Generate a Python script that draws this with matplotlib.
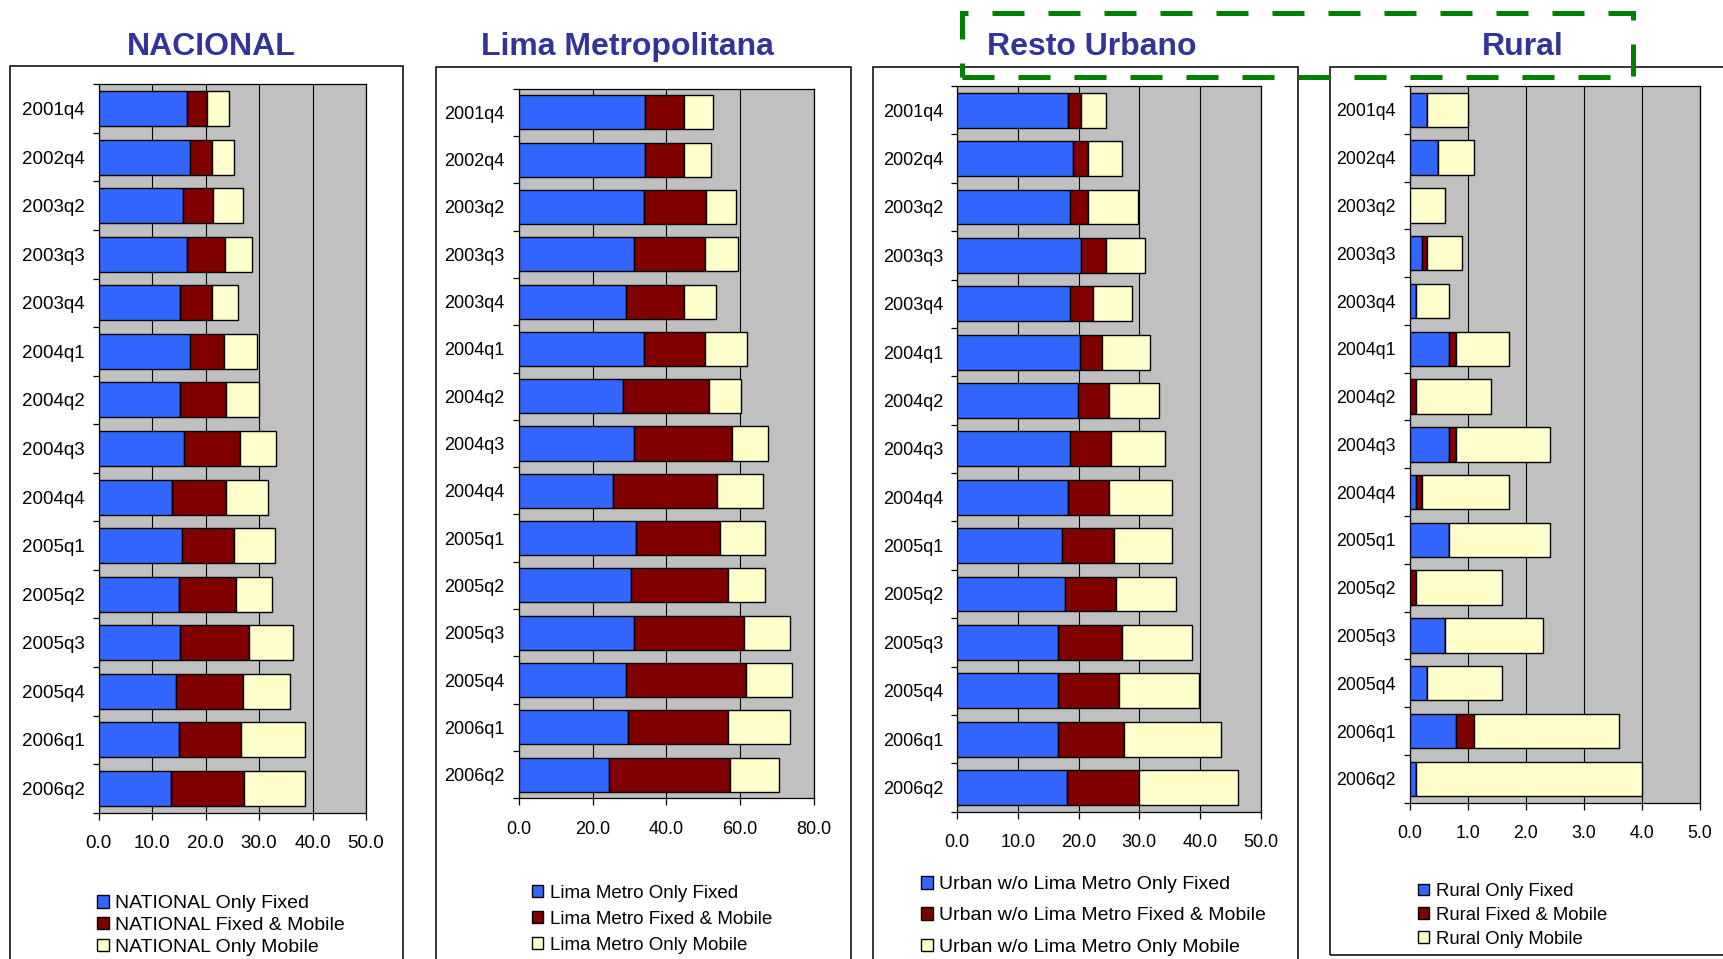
import numpy as np
import matplotlib
matplotlib.use("Agg")
import matplotlib.pyplot as plt
from matplotlib.patches import Rectangle
from matplotlib.ticker import MultipleLocator

plt.rcParams['font.family'] = ['Liberation Sans', 'DejaVu Sans']

QUARTERS = ['2001q4', '2002q4', '2003q2', '2003q3', '2003q4', '2004q1', '2004q2',
            '2004q3', '2004q4', '2005q1', '2005q2', '2005q3', '2005q4', '2006q1', '2006q2']

# segment lengths: only fixed / fixed & mobile / only mobile
NAT_FIXED = [16.6, 17.1, 15.8, 16.6, 15.2, 17.1, 15.2, 16.0, 13.8, 15.5, 15.0, 15.2, 14.4, 15.0, 13.6]
NAT_BOTH = [3.7, 4.0, 5.6, 7.0, 5.9, 6.3, 8.7, 10.4, 10.1, 9.9, 10.6, 12.9, 12.6, 11.7, 13.6]
NAT_MOBILE = [4.1, 4.3, 5.5, 5.0, 5.0, 6.3, 6.1, 6.7, 7.7, 7.5, 6.9, 8.3, 8.8, 11.9, 11.4]

LIMA_FIXED = [34.2, 34.2, 33.9, 31.3, 29.2, 33.9, 28.3, 31.3, 25.6, 31.8, 30.4, 31.3, 29.2, 29.6, 24.5]
LIMA_BOTH = [10.6, 10.6, 16.8, 19.1, 15.6, 16.5, 23.3, 26.4, 28.1, 22.8, 26.3, 29.8, 32.3, 27.1, 32.7]
LIMA_MOBILE = [7.8, 7.3, 8.2, 8.9, 8.6, 11.5, 8.6, 9.9, 12.6, 12.2, 10.1, 12.5, 12.5, 16.9, 13.3]

URB_FIXED = [18.2, 19.0, 18.5, 20.4, 18.5, 20.2, 19.9, 18.5, 18.2, 17.2, 17.7, 16.6, 16.6, 16.6, 18.0]
URB_BOTH = [2.2, 2.5, 3.0, 4.1, 3.8, 3.7, 5.1, 6.8, 6.8, 8.6, 8.4, 10.5, 10.0, 10.8, 11.9]
URB_MOBILE = [4.1, 5.6, 8.3, 6.5, 6.5, 7.9, 8.3, 8.9, 10.4, 9.6, 9.9, 11.6, 13.2, 16.1, 16.4]

RUR_FIXED = [0.29, 0.49, 0.0, 0.20, 0.10, 0.68, 0.0, 0.68, 0.10, 0.68, 0.0, 0.60, 0.29, 0.79, 0.10]
RUR_BOTH = [0.0, 0.0, 0.0, 0.09, 0.0, 0.11, 0.10, 0.11, 0.11, 0.0, 0.10, 0.0, 0.0, 0.32, 0.0]
RUR_MOBILE = [0.71, 0.62, 0.61, 0.61, 0.58, 0.91, 1.30, 1.62, 1.49, 1.73, 1.48, 1.70, 1.29, 2.49, 3.90]

SUFFIXES = ['Only Fixed', 'Fixed & Mobile', 'Only Mobile']
COLORS = ['#3366FF', '#800000', '#FFFFCC']
TITLE_COLOR = '#333399'

W, H = 1724, 959
fig = plt.figure(figsize=(W / 100, H / 100), dpi=100)


def fx(x):
    return x / W


def fy(y):
    return 1 - y / H


# title, title x, axes box (l, t, r, b) px, xmax, step, legend prefix,
# legend anchor px, labelspacing, tick font, legend font, outer box px
PANELS = [
    ('NACIONAL', 211, (98.7, 84.3, 366, 812.7), 50, 10, 'NATIONAL',
     (97, 895), 0.24, 13.5, 14, (10, 66, 403, 975),
     (NAT_FIXED, NAT_BOTH, NAT_MOBILE)),
    ('Lima Metropolitana', 627, (518.7, 88.7, 814, 798.3), 80, 20, 'Lima Metro',
     (532, 885), 0.48, 13, 13.5, (436, 67, 851, 975),
     (LIMA_FIXED, LIMA_BOTH, LIMA_MOBILE)),
    ('Resto Urbano', 1092, (957.3, 86, 1260.7, 811.7), 50, 10, 'Urban w/o Lima Metro',
     (921, 876), 0.73, 13, 14, (873, 67, 1298, 975),
     (URB_FIXED, URB_BOTH, URB_MOBILE)),
    ('Rural', 1523, (1410, 86, 1700, 802.7), 5, 1, 'Rural',
     (1418, 883), 0.37, 12.8, 13.3, (1330, 67, 1740, 955),
     (RUR_FIXED, RUR_BOTH, RUR_MOBILE)),
]

y = np.arange(len(QUARTERS))
for (title, tx, (l, t, r, b), xmax, step, prefix, (lx, ly), lsp, tfs, lfs,
     (bl, bt, br, bb), series) in PANELS:
    # outer chart-area frame
    fig.patches.append(Rectangle((fx(bl), fy(bb)), fx(br) - fx(bl), fy(bt) - fy(bb),
                                 transform=fig.transFigure, fill=False,
                                 edgecolor='black', linewidth=1.1))
    fig.text(fx(tx), fy(47), title, ha='center', va='center', fontsize=23,
             fontweight='bold', color=TITLE_COLOR)

    ax = fig.add_axes([fx(l), fy(b), fx(r) - fx(l), fy(t) - fy(b)])
    ax.set_facecolor('#C0C0C0')
    left = np.zeros(len(QUARTERS))
    for vals, col, suf in zip(series, COLORS, SUFFIXES):
        ax.barh(y, vals, left=left, height=0.72, color=col, edgecolor='black',
                linewidth=1.0, label=f'{prefix} {suf}', zorder=3)
        left = left + np.array(vals)
    ax.set_xlim(0, xmax)
    ax.set_ylim(len(QUARTERS) - 0.5, -0.5)
    ax.set_xticks(np.arange(0, xmax + step / 2, step))
    ax.set_xticklabels([f'{v:.1f}' for v in np.arange(0, xmax + step / 2, step)])
    ax.set_yticks(y)
    ax.set_yticklabels(QUARTERS)
    ax.yaxis.set_minor_locator(MultipleLocator(1, offset=0.5))
    ax.tick_params(axis='y', which='major', length=0, pad=10, labelsize=tfs)
    ax.tick_params(axis='y', which='minor', length=4.5, width=0.9, direction='out')
    ax.tick_params(axis='x', length=5, width=0.9, pad=11, labelsize=tfs)
    ax.grid(axis='x', color='black', linewidth=0.8, zorder=1)
    ax.set_axisbelow(True)
    for s in ax.spines.values():
        s.set_linewidth(0.9)
        s.set_color('black')

    ax.legend(loc='upper left', bbox_to_anchor=(fx(lx), fy(ly)),
              bbox_transform=fig.transFigure, frameon=False, fontsize=lfs,
              handlelength=0.6, handleheight=0.62, handletextpad=0.35,
              labelspacing=lsp, borderpad=0, borderaxespad=0)

# green dashed highlight around the two last titles
fig.patches.append(Rectangle((fx(962), fy(77.3)), fx(1633) - fx(962), fy(13.3) - fy(77.3),
                             transform=fig.transFigure, fill=False, edgecolor='#008000',
                             linewidth=3.6, linestyle=(0, (6.4, 4.8))))

fig.savefig('out.png', dpi=100)
